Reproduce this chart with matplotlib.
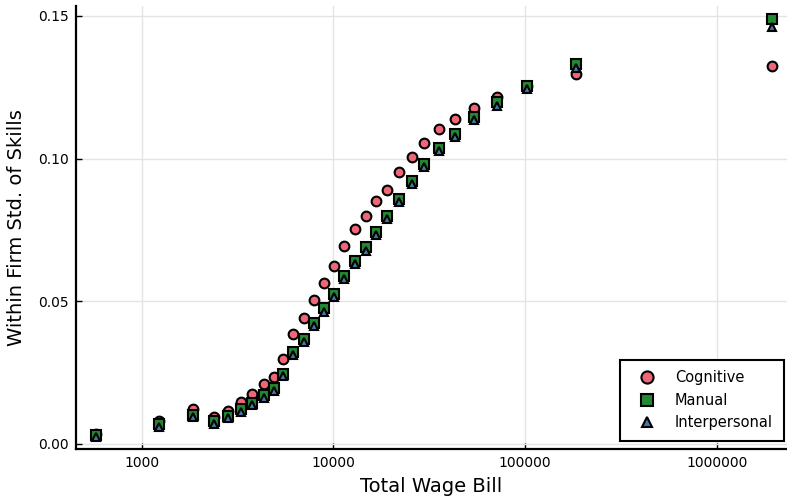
import matplotlib
matplotlib.use("Agg")
import matplotlib.pyplot as plt
from matplotlib.ticker import FixedLocator, NullLocator

plt.rcParams['font.family'] = ['DejaVu Sans']

# Firm size bins (total wage bill) and within-firm skill dispersion
wage_bill = [578, 1227, 1845, 2375, 2818, 3275, 3760, 4325, 4870, 5458,
             6152, 6998, 7870, 8895, 10060, 11400, 12960, 14740, 16700, 19100,
             21980, 25620, 29790, 35680, 43320, 54030, 71380, 102700, 184300, 1930000]

cognitive = [0.0034, 0.0082, 0.0122, 0.0095, 0.0115, 0.0146, 0.0176, 0.0211, 0.0236, 0.0299,
             0.0387, 0.0443, 0.0504, 0.0565, 0.0624, 0.0693, 0.0755, 0.0798, 0.0852, 0.0891,
             0.0954, 0.1006, 0.1056, 0.1104, 0.1140, 0.1178, 0.1215, 0.1255, 0.1297, 0.1324]

manual = [0.0030, 0.0070, 0.0102, 0.0079, 0.0099, 0.0123, 0.0145, 0.0172, 0.0197, 0.0247,
          0.0322, 0.0369, 0.0425, 0.0475, 0.0525, 0.0588, 0.0643, 0.0689, 0.0744, 0.0798,
          0.0860, 0.0923, 0.0982, 0.1036, 0.1088, 0.1146, 0.1197, 0.1255, 0.1330, 0.1490]

interpersonal = [0.0025, 0.0061, 0.0093, 0.0070, 0.0090, 0.0113, 0.0135, 0.0162, 0.0187, 0.0237,
                 0.0311, 0.0358, 0.0414, 0.0464, 0.0514, 0.0577, 0.0632, 0.0678, 0.0733, 0.0787,
                 0.0849, 0.0912, 0.0971, 0.1025, 0.1077, 0.1134, 0.1186, 0.1243, 0.1318, 0.1463]

x_ticks = [1000, 10000, 100000, 1000000]
x_tick_labels = ["1000", "10000", "100000", "1000000"]
y_ticks = [0.00, 0.05, 0.10, 0.15]
y_tick_labels = ["0.00", "0.05", "0.10", "0.15"]

fig = plt.figure(figsize=(7.87, 4.97), dpi=100)
ax = fig.add_axes([0.0966, 0.0966, 0.9034, 0.8914])

ax.plot(wage_bill, cognitive, linestyle='none', marker='o', markersize=7.0,
        markerfacecolor='#EE6677', markeredgecolor='black', markeredgewidth=1.5,
        label='Cognitive', zorder=3)
ax.plot(wage_bill, manual, linestyle='none', marker='s', markersize=6.8,
        markerfacecolor='#228833', markeredgecolor='black', markeredgewidth=1.5,
        label='Manual', zorder=4)
ax.plot(wage_bill, interpersonal, linestyle='none', marker='^', markersize=6.0,
        markerfacecolor='#4477AA', markeredgecolor='black', markeredgewidth=1.5,
        label='Interpersonal', zorder=5)

ax.set_xscale('log')
ax.set_xlim(454, 2.323e6)
ax.set_ylim(-0.00175, 0.1535)

ax.xaxis.set_major_locator(FixedLocator(x_ticks))
ax.xaxis.set_minor_locator(NullLocator())
ax.set_xticklabels(x_tick_labels)
ax.set_yticks(y_ticks)
ax.set_yticklabels(y_tick_labels)

ax.tick_params(axis='both', which='major', direction='in', length=4, width=1,
               labelsize=10, color='black', pad=5)

ax.grid(True, color='#e4e4e4', linewidth=1.0, zorder=0)
ax.set_axisbelow(True)

for side in ('top', 'right'):
    ax.spines[side].set_visible(False)
for side in ('left', 'bottom'):
    ax.spines[side].set_linewidth(1.6)
    ax.spines[side].set_color('black')

ax.set_xlabel('Total Wage Bill', fontsize=14, labelpad=5)
ax.set_ylabel('Within Firm Std. of Skills', fontsize=14, labelpad=9)

leg = ax.legend(loc='lower right', bbox_to_anchor=(0.9958, 0.018), borderaxespad=0,
                fontsize=10.5, frameon=True, fancybox=False, framealpha=1,
                edgecolor='black', handletextpad=0.8, borderpad=0.75,
                labelspacing=0.5, handlelength=2.2, markerscale=1.25)
leg.get_frame().set_linewidth(1.5)

fig.savefig('out.png', dpi=100)
